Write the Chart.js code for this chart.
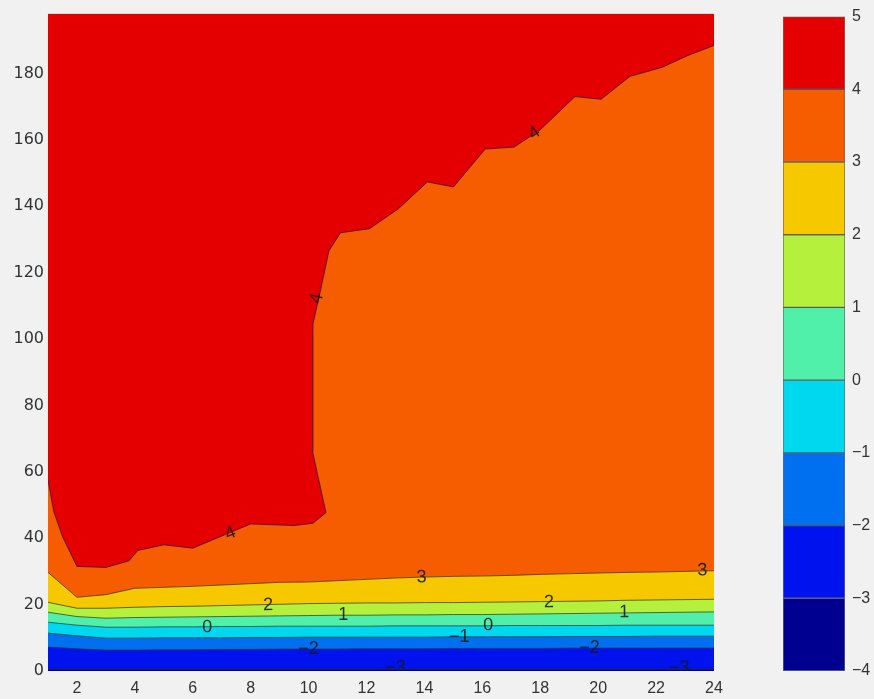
<!DOCTYPE html>
<html>
<head>
<meta charset="utf-8">
<script src="https://cdn.jsdelivr.net/npm/chart.js@4.4.0/dist/chart.umd.min.js"></script>
<style>
  html, body { margin: 0; padding: 0; background: #f1f1f1; }
  #wrap { position: relative; width: 874px; height: 699px; }
  #contour { position: absolute; left: 0; top: 0; }
  #colorbar { position: absolute; left: 770px; top: 0; }
</style>
</head>
<body>
<div id="wrap">
  <canvas id="contour" width="874" height="699"></canvas>
  <canvas id="colorbar" width="104" height="699"></canvas>
</div>
<script>
// grid columns
var xGrid = [1,2,3,4,5,6,7,8,9,10,11,12,13,14,15,16,17,18,19,20,21,22,23,24];

// contour levels and band colours (jet)
var levels = [-4,-3,-2,-1,0,1,2,3,4,5];
var bandColors = ['#000090','#0012ee','#0070f0','#00d8f0','#50f0aa','#b4f03c','#f5c800','#f65c00','#e40000'];

// contour lines, one y value per column
var levelM3 = [0.5,0.5,0.5,0.5,0.5,0.5,0.5,0.5,0.5,0.5,0.5,0.5,0.5,0.5,0.5,0.5,0.5,0.5,0.5,0.5,0.5,0.5,0.5,0.5];
var levelM2 = [7.2,6.7,6.3,6.3,6.4,6.4,6.5,6.5,6.6,6.6,6.6,6.7,6.7,6.7,6.8,6.8,6.8,6.8,6.9,6.9,6.9,6.9,6.9,6.9];
var levelM1 = [11.4,10.6,9.9,9.9,10.0,10.0,10.0,10.1,10.1,10.2,10.2,10.2,10.2,10.2,10.3,10.3,10.3,10.3,10.4,10.4,10.4,10.5,10.5,10.5];
var level0  = [14.7,13.8,13.2,13.2,13.3,13.3,13.4,13.4,13.5,13.5,13.5,13.5,13.6,13.6,13.6,13.6,13.7,13.7,13.7,13.7,13.8,13.8,13.8,13.8];
var level1  = [17.7,16.4,15.9,16.1,16.2,16.3,16.4,16.5,16.6,16.7,16.8,16.8,16.9,16.9,17.0,17.0,17.1,17.2,17.3,17.4,17.5,17.6,17.7,17.8];
var level2  = [20.7,18.9,18.9,19.2,19.4,19.5,19.7,19.9,20.1,20.3,20.4,20.5,20.5,20.6,20.6,20.7,20.8,20.9,21.0,21.1,21.3,21.4,21.5,21.6];
var level3  = [29.7,22.2,23.0,24.9,25.2,25.5,25.9,26.3,26.7,26.8,27.2,27.6,28.0,28.3,28.5,28.6,28.8,29.1,29.3,29.5,29.7,29.8,30.0,30.2];

// the level-4 line folds back near x=10, so it keeps its own x list
var level4X = [1,1.2,1.5,2,3,3.8,4.1,5,6,8,9.5,10.15,10.6,10.15,10.15,10.42,10.7,11.1,12.1,13.1,14.1,15,16.1,17.1,18,19.2,20.1,21.1,22.2,23.1,24];
var level4Y = [57.5,48,40.5,31.5,31.2,33.2,36.3,38,37,44.3,43.8,44.5,47.7,65.5,104.5,115,126.5,132,133.2,139.2,147.3,145.8,157.2,157.8,163,173,172.2,179.1,181.8,185.4,188.4];

var yTop = 198;
var xTicks = [2,4,6,8,10,12,14,16,18,20,22,24];
var yTicks = [0,20,40,60,80,100,120,140,160,180];

// inline contour labels (line index into the list below, x, y)
var labelLine = [7,7,7,6,6,5,5,4,4,3,3,2,1,1,0,0];
var labelX = [7.3,10.29,17.8,13.9,23.6,8.6,18.3,11.2,20.9,6.5,16.2,15.2,10.0,19.7,13.0,22.8];
var labelY = [41.4,112.2,162,28.2,30.3,19.8,20.7,16.8,17.7,13.2,13.8,10.2,6.6,6.8,1.0,1.0];

function pts(xs, ys) {
  return xs.map(function (x, i) { return { x: x, y: ys[i] }; });
}

var lineLevels = [-3,-2,-1,0,1,2,3,4];
var lineData = [
  pts(xGrid, levelM3), pts(xGrid, levelM2), pts(xGrid, levelM1), pts(xGrid, level0),
  pts(xGrid, level1), pts(xGrid, level2), pts(xGrid, level3), pts(level4X, level4Y)
];
lineData.push([{ x: 1, y: yTop }, { x: 24, y: yTop }]);

var datasets = lineData.map(function (d, i) {
  return {
    data: d,
    fill: 'start',
    backgroundColor: bandColors[i],
    borderColor: i == 7 ? 'rgba(70,20,70,0.85)' : 'rgba(40,50,40,0.7)',
    borderWidth: i == 8 ? 0 : 1,
    pointRadius: 0,
    tension: 0
  };
});

function minus(s) { return String(s).replace('-', '\u2212'); }

var contourLabels = {
  id: 'contourLabels',
  afterDatasetsDraw: function (chart) {
    var ctx = chart.ctx, a = chart.chartArea;
    var xs = chart.scales.x, ys = chart.scales.y;
    ctx.save();
    ctx.beginPath();
    ctx.rect(a.left, a.top, a.right - a.left, a.bottom - a.top);
    ctx.clip();
    ctx.font = '18px "Liberation Sans", Arial, sans-serif';
    ctx.fillStyle = 'rgba(25,25,25,0.9)';
    ctx.textAlign = 'center';
    ctx.textBaseline = 'middle';
    for (var i = 0; i < labelX.length; i++) {
      var px = xs.getPixelForValue(labelX[i]);
      var py = ys.getPixelForValue(labelY[i]);
      // follow the direction of the nearest segment of its line
      var p = chart.getDatasetMeta(labelLine[i]).data;
      var best = 1e9, ang = 0;
      for (var j = 0; j < p.length - 1; j++) {
        var mx = (p[j].x + p[j + 1].x) / 2, my = (p[j].y + p[j + 1].y) / 2;
        var dd = (mx - px) * (mx - px) + (my - py) * (my - py);
        if (dd < best) { best = dd; ang = Math.atan2(p[j + 1].y - p[j].y, p[j + 1].x - p[j].x); }
      }
      if (ang > Math.PI / 2) ang -= Math.PI;
      if (ang < -Math.PI / 2) ang += Math.PI;
      ctx.save();
      ctx.translate(px, py);
      ctx.rotate(ang);
      ctx.fillText(minus(lineLevels[labelLine[i]]), 0, 0);
      ctx.restore();
    }
    ctx.restore();
  }
};

var tickColor = '#333333';

new Chart(document.getElementById('contour'), {
  type: 'line',
  data: { datasets: datasets },
  plugins: [contourLabels],
  options: {
    responsive: false,
    animation: false,
    layout: { padding: { top: 12, right: 160, left: 0, bottom: 0 } },
    plugins: { legend: { display: false }, tooltip: { enabled: false } },
    scales: {
      x: {
        type: 'linear', min: 1, max: 24,
        grid: { display: false, drawTicks: false },
        border: { display: false },
        ticks: { padding: 8, color: tickColor, font: { family: '"Liberation Sans", Arial, sans-serif', size: 16 } },
        afterBuildTicks: function (s) { s.ticks = xTicks.map(function (v) { return { value: v }; }); },
        afterFit: function (s) { s.height = 28; }
      },
      y: {
        type: 'linear', min: 0, max: yTop,
        grid: { display: false, drawTicks: false },
        border: { display: false },
        ticks: { padding: 4, color: tickColor, font: { family: '"DejaVu Sans", sans-serif', size: 16 } },
        afterBuildTicks: function (s) { s.ticks = yTicks.map(function (v) { return { value: v }; }); },
        afterFit: function (s) { s.width = 48; }
      }
    }
  }
});

// colour bar: one floating bar per band
new Chart(document.getElementById('colorbar'), {
  type: 'bar',
  data: {
    labels: [''],
    datasets: bandColors.map(function (c, i) {
      return {
        data: [[levels[i], levels[i + 1]]],
        backgroundColor: c,
        borderColor: 'rgba(60,60,60,0.75)',
        borderWidth: 1,
        borderSkipped: false,
        grouped: false,
        barPercentage: 1,
        categoryPercentage: 1
      };
    })
  },
  options: {
    responsive: false,
    animation: false,
    layout: { padding: { left: 13, top: 12, bottom: 28, right: 0 } },
    plugins: { legend: { display: false }, tooltip: { enabled: false } },
    scales: {
      x: { display: false },
      y: {
        position: 'right', min: -4, max: 5,
        grid: { display: false, drawTicks: false },
        border: { display: false },
        ticks: {
          stepSize: 1, padding: 7, color: tickColor,
          font: { family: '"Liberation Sans", Arial, sans-serif', size: 16 },
          callback: function (v) { return minus(v); }
        },
        afterFit: function (s) { s.width = 29; }
      }
    }
  }
});
</script>
</body>
</html>
